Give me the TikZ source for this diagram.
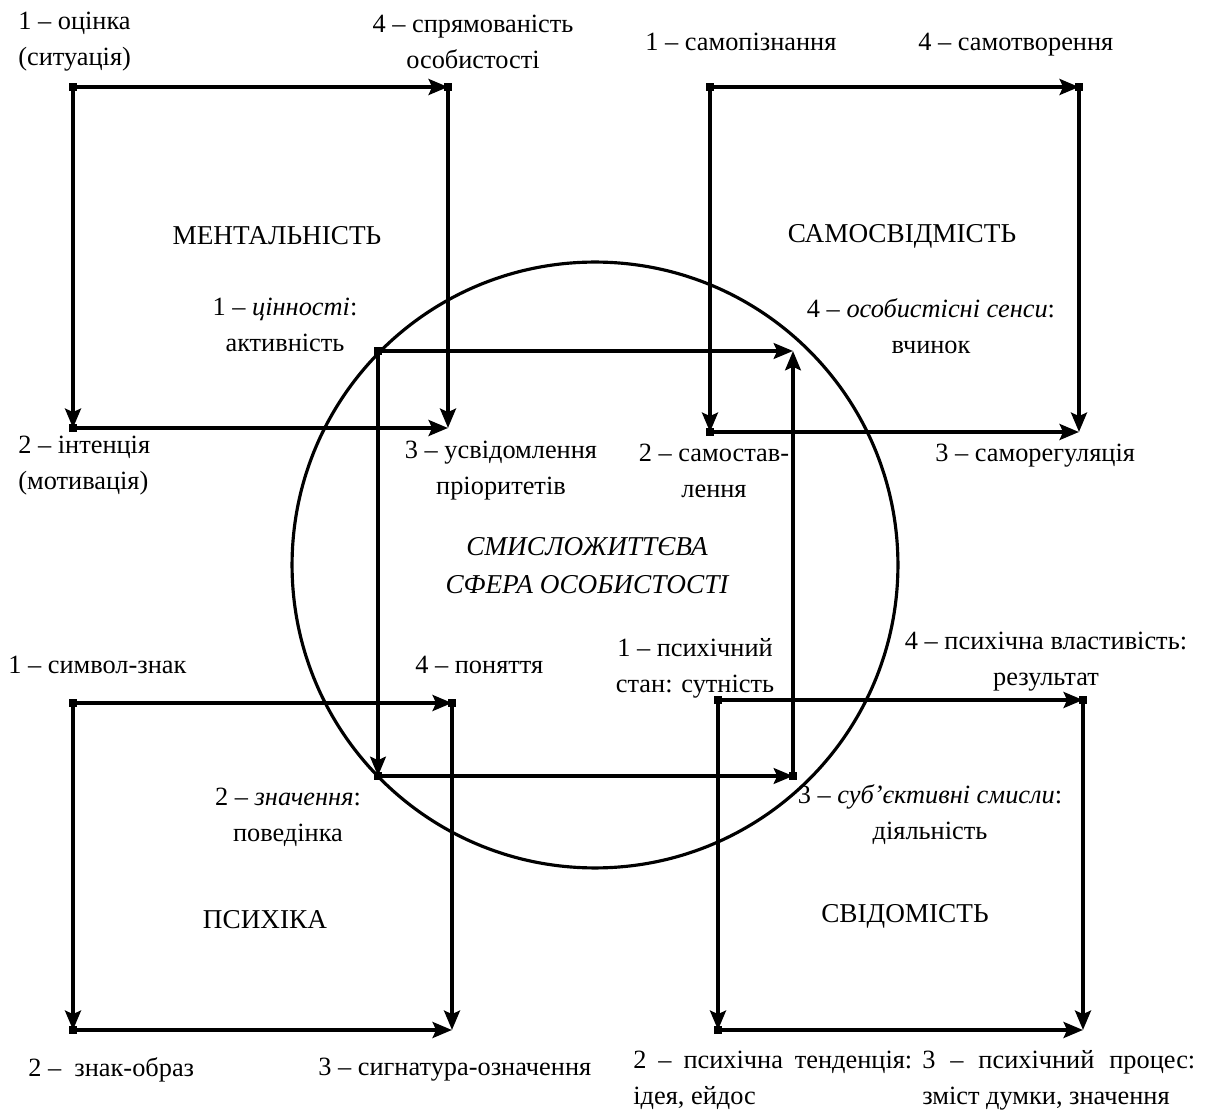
\documentclass[tikz,border=0pt]{standalone}
\usepackage{fontspec}
\setmainfont{Liberation Serif}
\newfontfamily\libser{Liberation Serif}
\usetikzlibrary{arrows.meta}

\tikzset{
	lbl/.style={inner sep=0pt, font=\libser\fontsize{15}{20.5}\selectfont},
	ttl/.style={inner sep=0pt, font=\libser\fontsize{15.5}{21.5}\selectfont},
	outer/.style={line width=2.3pt, -{Stealth[length=11pt,width=9pt,inset=2pt]}},
	inner/.style={line width=1.8pt, -{Stealth[length=11pt,width=9pt,inset=2pt]}},
	dot/.style={fill, inner sep=0pt, minimum size=4.5pt}
}

\begin{document}
\begin{tikzpicture}[x=0.02cm,y=-0.02cm]
		\useasboundingbox (0,0) rectangle (1205,1111);

		% the circle
		\draw[line width=1.8pt] (595,565) circle[radius=6.06cm];
		\node[ttl,align=center] (sfera) at (587,566) {\itshape СМИСЛОЖИТТЄВА\\\itshape СФЕРА ОСОБИСТОСТІ};

		% corners
		\coordinate (m1) at (73,87);   \coordinate (m4) at (448,87);
		\coordinate (m2) at (73,428);  \coordinate (m3) at (448,428);

		\coordinate (s1) at (710,87);  \coordinate (s4) at (1079,87);
		\coordinate (s2) at (710,432); \coordinate (s3) at (1079,432);

		\coordinate (p1) at (73,703);  \coordinate (p4) at (452,703);
		\coordinate (p2) at (73,1030); \coordinate (p3) at (452,1030);

		\coordinate (v1) at (718,700);  \coordinate (v4) at (1083,700);
		\coordinate (v2) at (718,1030); \coordinate (v3) at (1083,1030);

		\coordinate (c1) at (378,351); \coordinate (c4) at (793,351);
		\coordinate (c2) at (378,776); \coordinate (c3) at (793,776);

		% МЕНТАЛЬНІСТЬ
		\draw[outer] (m1) -- (m4);
		\draw[outer] (m4) -- (m3);
		\draw[outer] (m1) -- (m2);
		\draw[outer] (m2) -- (m3);
		\node[dot] at (m1) {}; \node[dot] at (m2) {}; \node[dot] at (m4) {};

		% САМОСВІДОМІСТЬ
		\draw[outer] (s1) -- (s4);
		\draw[outer] (s4) -- (s3);
		\draw[outer] (s1) -- (s2);
		\draw[outer] (s2) -- (s3);
		\node[dot] at (s1) {}; \node[dot] at (s2) {}; \node[dot] at (s4) {};

		% ПСИХІКА
		\draw[outer] (p1) -- (p4);
		\draw[outer] (p4) -- (p3);
		\draw[outer] (p1) -- (p2);
		\draw[outer] (p2) -- (p3);
		\node[dot] at (p1) {}; \node[dot] at (p2) {}; \node[dot] at (p4) {};

		% СВІДОМІСТЬ
		\draw[outer] (v1) -- (v4);
		\draw[outer] (v4) -- (v3);
		\draw[outer] (v1) -- (v2);
		\draw[outer] (v2) -- (v3);
		\node[dot] at (v1) {}; \node[dot] at (v2) {}; \node[dot] at (v4) {};

		% inner square
		\draw[inner] (c1) -- (c4);
		\draw[inner] (c1) -- (c2);
		\draw[inner] (c2) -- (c3);
		\draw[inner] (c3) -- (c4);
		\node[dot] at (c1) {}; \node[dot] at (c2) {}; \node[dot] at (c3) {};

		% labels
		\node[lbl,anchor=west,align=left] (m1t) at (18,42) {1 – оцінка\\(ситуація)};
		\node[lbl,align=center] (m4t) at (473,42) {4 – спрямованість\\особистості};
		\node[ttl] (ment) at (277,236) {МЕНТАЛЬНІСТЬ};
		\node[lbl,anchor=west,align=left] (m2t) at (18,466) {2 – інтенція\\(мотивація)};
		\node[lbl,align=center] (m3t) at (501,471) {3 – усвідомлення\\пріоритетів};

		\node[lbl,anchor=west] (s1t) at (645,42) {1 – самопізнання};
		\node[lbl,anchor=west] (s4t) at (918,45) {4 – самотворення};
		\node[ttl] (samo) at (902,236) {САМОСВІДМІСТЬ};
		\node[lbl,align=center] (s2t) at (714,471) {2 – самостав-\\лення};
		\node[lbl,anchor=west] (s3t) at (935,456) {3 – саморегуляція};

		\node[lbl,align=center] (c1t) at (285,325) {1 – \textit{цінності}:\\активність};
		\node[lbl,align=center] (c4t) at (931,326) {4 – \textit{особистісні сенси}:\\вчинок};
		\node[lbl,align=center] (c2t) at (288,817) {2 – \textit{значення}:\\поведінка};
		\node[lbl,align=center] (c3t) at (930,815) {3 – \textit{суб’єктивні смисли}:\\діяльність};

		\node[lbl,anchor=west] (p1t) at (8,665) {1 – символ-знак};
		\node[lbl,anchor=west] (p4t) at (415,665) {4 – поняття};
		\node[ttl] (psy) at (265,920) {ПСИХІКА};
		\node[lbl,anchor=west] (p2t) at (28,1070) {2 –\ \ знак-образ};
		\node[lbl,anchor=west] (p3t) at (318,1070) {3 – сигнатура-означення};

		\node[lbl,align=center] (v1t) at (695,668) {1 – психічний\\стан: сутність};
		\node[lbl,align=center] (v4t) at (1046,662) {4 – психічна властивість:\\результат};
		\node[ttl] (svid) at (905,916) {СВІДОМІСТЬ};
		\node[lbl,anchor=west,align=left] (v2t) at (633,1080) {\makebox[5.58cm][s]{2 – психічна тенденція:}\\ідея, ейдос};
		\node[lbl,anchor=west,align=left] (v3t) at (922,1080) {\makebox[5.46cm][s]{3 – психічний процес:}\\зміст думки, значення};
	\end{tikzpicture}
\end{document}
